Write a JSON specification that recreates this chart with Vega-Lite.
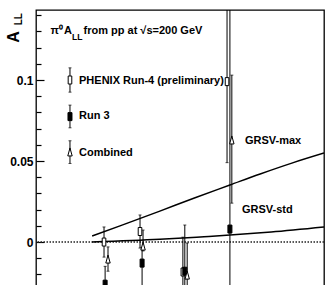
{
  "$schema": "https://vega.github.io/schema/vega-lite/v6.json",
  "autosize": {"type": "none"},
  "padding": {"left": 36, "top": 10, "right": 7, "bottom": 0},
  "width": 288,
  "height": 280,
  "background": "white",
  "config": {
    "view": {"stroke": "black", "strokeWidth": 1.3},
    "font": "Liberation Sans"
  },
  "datasets": {
    "zero": [{"y": 0}],
    "curves": [
      {"s": "max", "x": 1.17, "y": 0.0037},
      {"s": "max", "x": 1.75, "y": 0.0100},
      {"s": "max", "x": 2.58, "y": 0.0191},
      {"s": "max", "x": 3.3, "y": 0.0272},
      {"s": "max", "x": 4.04, "y": 0.0352},
      {"s": "max", "x": 4.67, "y": 0.0420},
      {"s": "max", "x": 5.33, "y": 0.0487},
      {"s": "max", "x": 6.0, "y": 0.0549},
      {"s": "std", "x": 1.17, "y": 0.0},
      {"s": "std", "x": 2.58, "y": 0.0017},
      {"s": "std", "x": 3.5, "y": 0.0033},
      {"s": "std", "x": 4.04, "y": 0.0043},
      {"s": "std", "x": 4.9, "y": 0.0062},
      {"s": "std", "x": 6.0, "y": 0.0093}
    ],
    "points": [
      {"s": "Run4", "x": 1.417, "v": 0.0, "lo": -0.0093, "hi": 0.0093},
      {"s": "Run4", "x": 2.167, "v": 0.0065, "lo": -0.0037, "hi": 0.0167},
      {"s": "Run4", "x": 3.06, "v": -0.0185, "lo": -0.040, "hi": 0.003},
      {"s": "Run4", "x": 3.98, "v": 0.099, "lo": 0.049, "hi": 0.149},
      {"s": "Run3", "x": 1.44, "v": -0.026, "lo": -0.037, "hi": -0.015},
      {"s": "Run3", "x": 2.21, "v": -0.013, "lo": -0.035, "hi": -0.0035},
      {"s": "Run3", "x": 3.10, "v": -0.018, "lo": -0.0465, "hi": 0.0105},
      {"s": "Run3", "x": 4.04, "v": 0.008, "lo": -0.2, "hi": 0.2},
      {"s": "Comb", "x": 1.50, "v": -0.0105, "lo": -0.018, "hi": -0.003},
      {"s": "Comb", "x": 2.23, "v": -0.0025, "lo": -0.0055, "hi": 0.0074},
      {"s": "Comb", "x": 3.15, "v": -0.0204, "lo": -0.040, "hi": -0.0006},
      {"s": "Comb", "x": 4.08, "v": 0.063, "lo": 0.024, "hi": 0.103},
      {"s": "Run4", "x": 0.708, "v": 0.1, "lo": 0.0925, "hi": 0.1075},
      {"s": "Run3", "x": 0.708, "v": 0.0774, "lo": 0.0705, "hi": 0.0845},
      {"s": "Comb", "x": 0.708, "v": 0.0556, "lo": 0.0485, "hi": 0.0625}
    ],
    "labels": [
      {"k": "main", "x": 0.896, "y": 0.0994, "t": "PHENIX  Run-4 (preliminary)"},
      {"k": "main", "x": 0.896, "y": 0.0775, "t": "Run 3"},
      {"k": "main", "x": 0.896, "y": 0.0552, "t": "Combined"},
      {"k": "main", "x": 4.354, "y": 0.0623, "t": "GRSV-max"},
      {"k": "main", "x": 4.29, "y": 0.0198, "t": "GRSV-std"},
      {"k": "title", "x": 0.30, "y": 0.130, "t": "π⁰"},
      {"k": "title", "x": 0.583, "y": 0.130, "t": "A"},
      {"k": "title", "x": 0.99, "y": 0.130, "t": "from pp at √s=200 GeV"},
      {"k": "sub", "x": 0.75, "y": 0.1268, "t": "LL"},
      {"k": "ytitle", "x": -0.458, "y": 0.1265, "t": "A"},
      {"k": "ysub", "x": -0.36, "y": 0.1375, "t": "LL"}
    ]
  },
  "layer": [
    {
      "data": {"name": "zero"},
      "mark": {"type": "rule", "strokeDash": [1.5, 1.5], "strokeWidth": 1.5, "color": "#222"},
      "encoding": {
        "y": {
          "field": "y", "type": "quantitative",
          "scale": {"domain": [-0.0296, 0.1432], "nice": false, "zero": false},
          "axis": {
            "values": [-0.02, -0.01, 0, 0.01, 0.02, 0.03, 0.04, 0.05, 0.06, 0.07, 0.08, 0.09, 0.1, 0.11, 0.12, 0.13, 0.14],
            "tickCount": 30,
            "title": null,
            "domain": false,
            "grid": false,
            "format": "~g",
            "tickColor": "black",
            "tickWidth": 1.2,
            "tickSize": {"condition": {"test": "abs(datum.value) < 1e-6 || abs(datum.value - 0.05) < 1e-6 || abs(datum.value - 0.1) < 1e-6", "value": -8}, "value": -5},
            "labelPadding": 11,
            "labelOverlap": false,
            "labelOpacity": {"condition": {"test": "abs(datum.value) < 1e-6 || abs(datum.value - 0.05) < 1e-6 || abs(datum.value - 0.1) < 1e-6", "value": 1}, "value": 0},
            "labelFont": "Liberation Sans",
            "labelFontSize": 12,
            "labelFontWeight": "bold",
            "labelColor": "black",
            "labelBaseline": "middle"
          }
        }
      }
    },
    {
      "data": {"name": "curves"},
      "mark": {"type": "line", "color": "black", "strokeWidth": 1.5, "interpolate": "monotone", "clip": true},
      "encoding": {
        "x": {"field": "x", "type": "quantitative", "scale": {"domain": [0, 6], "nice": false, "zero": false}, "axis": null},
        "y": {"field": "y", "type": "quantitative"},
        "detail": {"field": "s"}
      }
    },
    {
      "data": {"name": "points"},
      "mark": {"type": "rule", "color": "black", "strokeWidth": 1, "clip": true},
      "encoding": {
        "x": {"field": "x", "type": "quantitative"},
        "y": {"field": "lo", "type": "quantitative"},
        "y2": {"field": "hi"}
      }
    },
    {
      "data": {"name": "points"},
      "mark": {"type": "tick", "orient": "horizontal", "color": "black", "size": 3, "thickness": 1, "clip": true},
      "encoding": {
        "x": {"field": "x", "type": "quantitative"},
        "y": {"field": "hi", "type": "quantitative"}
      }
    },
    {
      "data": {"name": "points"},
      "mark": {"type": "tick", "orient": "horizontal", "color": "black", "size": 3, "thickness": 1, "clip": true},
      "encoding": {
        "x": {"field": "x", "type": "quantitative"},
        "y": {"field": "lo", "type": "quantitative"}
      }
    },
    {
      "data": {"name": "points"},
      "mark": {"type": "point", "filled": true, "stroke": "black", "strokeWidth": 1, "opacity": 1, "size": 64, "clip": true},
      "encoding": {
        "x": {"field": "x", "type": "quantitative"},
        "y": {"field": "v", "type": "quantitative"},
        "shape": {"field": "s", "type": "nominal", "legend": null,
          "scale": {"domain": ["Run4", "Run3", "Comb"], "range": ["M-0.45,-1H0.45V1H-0.45Z", "M-0.5,-1H0.5V1H-0.5Z", "M0,-1L0.55,1H-0.55Z"]}},
        "fill": {"field": "s", "type": "nominal", "legend": null,
          "scale": {"domain": ["Run4", "Run3", "Comb"], "range": ["white", "black", "white"]}}
      }
    },
    {
      "data": {"name": "labels"},
      "transform": [{"filter": "datum.k === 'main'"}],
      "mark": {"type": "text", "align": "left", "baseline": "middle", "font": "Liberation Sans", "fontSize": 11, "fontWeight": "bold", "color": "black"},
      "encoding": {
        "x": {"field": "x", "type": "quantitative"},
        "y": {"field": "y", "type": "quantitative"},
        "text": {"field": "t"}
      }
    },
    {
      "data": {"name": "labels"},
      "transform": [{"filter": "datum.k === 'title'"}],
      "mark": {"type": "text", "align": "left", "baseline": "middle", "font": "Liberation Sans", "fontSize": 11, "fontWeight": "bold", "color": "black"},
      "encoding": {
        "x": {"field": "x", "type": "quantitative"},
        "y": {"field": "y", "type": "quantitative"},
        "text": {"field": "t"}
      }
    },
    {
      "data": {"name": "labels"},
      "transform": [{"filter": "datum.k === 'sub'"}],
      "mark": {"type": "text", "align": "left", "baseline": "middle", "font": "Liberation Sans", "fontSize": 8.5, "fontWeight": "bold", "color": "black"},
      "encoding": {
        "x": {"field": "x", "type": "quantitative"},
        "y": {"field": "y", "type": "quantitative"},
        "text": {"field": "t"}
      }
    },
    {
      "data": {"name": "labels"},
      "transform": [{"filter": "datum.k === 'ytitle'"}],
      "mark": {"type": "text", "align": "center", "baseline": "middle", "angle": 270, "font": "Liberation Sans", "fontSize": 16, "fontWeight": "bold", "color": "black"},
      "encoding": {
        "x": {"field": "x", "type": "quantitative"},
        "y": {"field": "y", "type": "quantitative"},
        "text": {"field": "t"}
      }
    },
    {
      "data": {"name": "labels"},
      "transform": [{"filter": "datum.k === 'ysub'"}],
      "mark": {"type": "text", "align": "center", "baseline": "middle", "angle": 270, "font": "Liberation Sans", "fontSize": 10, "fontWeight": "bold", "color": "black"},
      "encoding": {
        "x": {"field": "x", "type": "quantitative"},
        "y": {"field": "y", "type": "quantitative"},
        "text": {"field": "t"}
      }
    }
  ]
}
